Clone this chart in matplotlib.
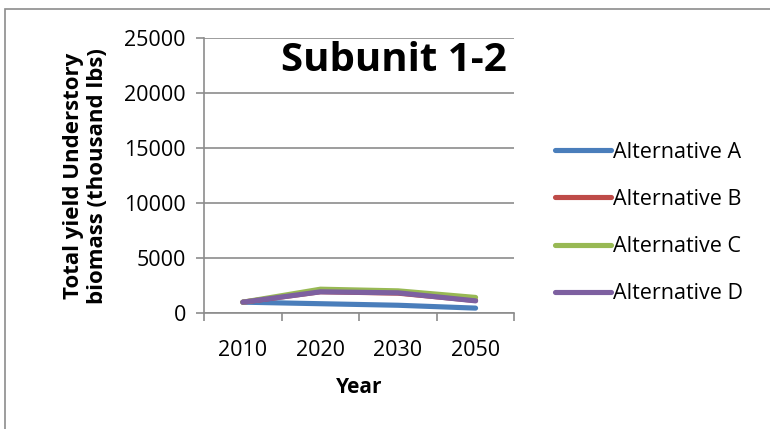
import matplotlib
matplotlib.use("Agg")
import matplotlib.pyplot as plt
from matplotlib.patches import Rectangle

plt.rcParams['font.family'] = ['Open Sans', 'DejaVu Sans']

# data
years = ['2010', '2020', '2030', '2050']
alt_a = [1000, 860, 720, 460]
alt_b = [1000, 1950, 1820, 1150]
alt_c = [1000, 2180, 2030, 1430]
alt_d = [1000, 1940, 1850, 1120]
series_names = ['Alternative A', 'Alternative B', 'Alternative C', 'Alternative D']
colors = ['#4a7ebb', '#be4b48', '#98b954', '#7d60a0']

fig = plt.figure(figsize=(7.7, 4.29), dpi=100)
ax = fig.add_axes([0.265, 0.270, 0.403, 0.641])

# outer chart border
fig.patches.append(Rectangle((5 / 770, -0.1), 1.2, 1 - 9 / 429 + 0.1,
                             transform=fig.transFigure, fill=False,
                             edgecolor='#8c8c8c', linewidth=1.2))

xs = range(len(years))
for vals, name, c in zip([alt_a, alt_b, alt_c, alt_d], series_names, colors):
    ax.plot(xs, vals, color=c, linewidth=3.7, solid_capstyle='round',
            solid_joinstyle='round', label=name)

ax.set_xlim(-0.5, len(years) - 0.5)
ax.set_ylim(0, 25000)
ax.set_yticks(range(0, 25001, 5000))
ax.yaxis.grid(True, color='#8c8c8c', linewidth=1.2)
ax.set_axisbelow(True)

ax.set_xticks([i - 0.5 for i in range(len(years) + 1)])
ax.set_xticklabels([])
ax.set_xticks(list(xs), minor=True)
ax.set_xticklabels(years, minor=True)
ax.tick_params(axis='x', which='minor', length=0, pad=19, labelsize=15.5)
ax.tick_params(axis='x', which='major', length=6, width=1.2, color='#8c8c8c')
ax.tick_params(axis='y', length=6, width=1.2, color='#8c8c8c', labelsize=15.5, pad=7)

for s in ['top', 'right']:
    ax.spines[s].set_visible(False)
for s in ['left', 'bottom']:
    ax.spines[s].set_color('#8c8c8c')
    ax.spines[s].set_linewidth(1.2)

ax.set_xlabel('Year', fontsize=15, fontweight='bold', labelpad=12)
ax.set_ylabel('Total yield Understory\nbiomass (thousand lbs)', fontsize=16,
              fontweight='bold', labelpad=12, linespacing=1.15)

ax.text(0.975, 0.92, 'Subunit 1-2', transform=ax.transAxes, ha='right', va='center',
        fontsize=29, fontweight='bold')

fig.legend(loc='upper left', bbox_to_anchor=(0.709, 0.69), frameon=False,
           fontsize=15.5, handlelength=2.6, handletextpad=0.1, labelspacing=1.22,
           borderaxespad=0)

fig.savefig('out.png', dpi=100)
